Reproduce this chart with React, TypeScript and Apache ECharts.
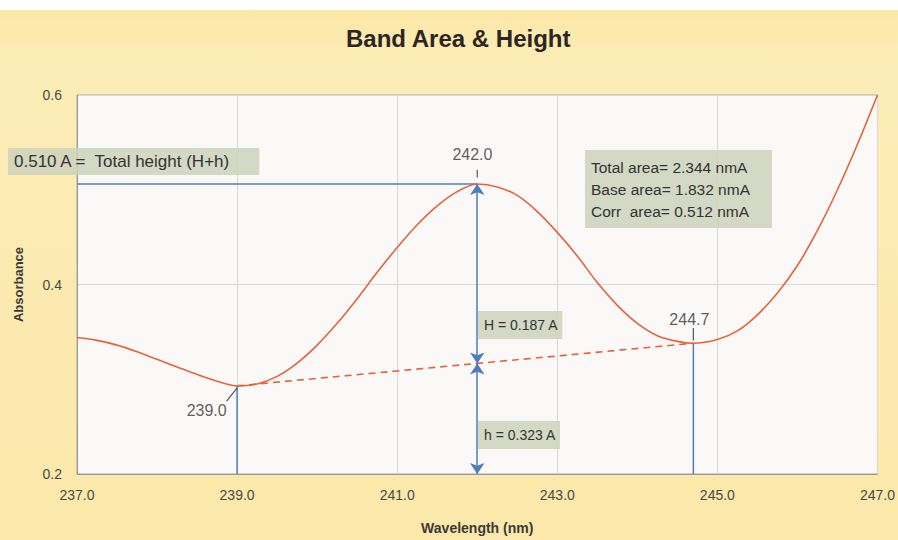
import React, { useEffect, useRef } from "react";
import * as echarts from "echarts";

const FONT = "'Liberation Sans', Arial, sans-serif";

// Spectrum
const wavelength = [
  237.0, 237.25, 237.5, 237.75, 238.0, 238.25, 238.5, 238.75, 239.0, 239.25, 239.5, 239.75,
  240.0, 240.25, 240.5, 240.75, 241.0, 241.25, 241.5, 241.75, 242.0, 242.25, 242.5, 242.75,
  243.0, 243.25, 243.5, 243.75, 244.0, 244.25, 244.5, 244.7, 245.0, 245.25, 245.5, 245.75,
  246.0, 246.25, 246.5, 246.75, 247.0,
];
const absorbance = [
  0.344, 0.341, 0.336, 0.329, 0.321, 0.313, 0.305, 0.298, 0.293, 0.295, 0.303, 0.317,
  0.336, 0.359, 0.385, 0.413, 0.439, 0.463, 0.483, 0.498, 0.506, 0.503, 0.494, 0.477,
  0.455, 0.430, 0.402, 0.378, 0.359, 0.346, 0.340, 0.338, 0.342, 0.351, 0.368, 0.391,
  0.420, 0.457, 0.500, 0.548, 0.600,
];

// Key points
const peak = [242.0, 0.506];
const leftMin = [239.0, 0.293];
const rightMin = [244.7, 0.338];
const baseAtPeak = 0.3167;
const axisMinY = 0.2;
const axisMinX = 237.0;

const xTicks = { min: 237, max: 247, interval: 2 };
const yTicks = { min: 0.2, max: 0.6, interval: 0.2 };

const pointLabels = [
  [241.94, 0.537, "242.0"],
  [238.62, 0.267, "239.0"],
  [244.65, 0.363, "244.7"],
];

const areaLines = ["Total area= 2.344 nmA", "Base area= 1.832 nmA", "Corr  area= 0.512 nmA"];

export default function App() {
  const ref = useRef<HTMLDivElement>(null);
  useEffect(() => {
    document.body.style.margin = "0";
    const chart = echarts.init(ref.current!, undefined, { renderer: "svg" });
    const blue = "#4f7cbd";
    const red = "#e6623d";
    const boxBg = "rgba(205,212,188,0.85)";
    const lineSeries = (name: string, data: number[][], style: any) => ({
      name,
      type: "line",
      data,
      showSymbol: false,
      symbol: "none",
      silent: true,
      lineStyle: style,
      z: 3,
    });
    chart.setOption({
      animation: false,
      backgroundColor: "transparent",
      title: {
        text: "Band Area & Height",
        left: 341,
        top: 21,
        textStyle: { fontSize: 24, fontWeight: "bold", color: "#2b2622", fontFamily: FONT },
      },
      grid: {
        left: 77,
        right: 20,
        top: 95,
        bottom: 63,
        show: true,
        backgroundColor: "#fbf9f7",
        borderColor: "#a9a9a9",
        borderWidth: 1,
      },
      xAxis: {
        type: "value",
        ...xTicks,
        name: "Wavelength (nm)",
        nameLocation: "middle",
        nameGap: 47,
        nameTextStyle: { fontWeight: "bold", fontSize: 14, color: "#3a3a3a", fontFamily: FONT },
        axisLabel: { formatter: (v: number) => v.toFixed(1), margin: 14, color: "#4a4a4a", fontSize: 14, fontFamily: FONT },
        axisLine: { show: true, lineStyle: { color: "#9a9a9a" } },
        axisTick: { show: false },
        splitLine: { show: true, lineStyle: { color: "#d9d9d9" } },
      },
      yAxis: {
        type: "value",
        ...yTicks,
        name: "Absorbance",
        nameLocation: "middle",
        nameGap: 52,
        nameTextStyle: { fontWeight: "bold", fontSize: 13, color: "#3a3a3a", fontFamily: FONT },
        axisLabel: { formatter: (v: number) => v.toFixed(1), margin: 15, color: "#4a4a4a", fontSize: 14, fontFamily: FONT },
        axisLine: { show: true, lineStyle: { color: "#9a9a9a" } },
        axisTick: { show: false },
        splitLine: { show: true, lineStyle: { color: "#d9d9d9" } },
      },
      series: [
        lineSeries("total", [[axisMinX, peak[1]], peak], { color: blue, width: 1.5 }),
        lineSeries("v239", [leftMin, [leftMin[0], axisMinY]], { color: blue, width: 1.5 }),
        lineSeries("v2447", [rightMin, [rightMin[0], axisMinY]], { color: blue, width: 1.5 }),
        lineSeries("baseline", [leftMin, rightMin], { color: red, width: 1.6, type: [7, 5] }),
        lineSeries("lead242", [[242.0, 0.513], [242.0, 0.521]], { color: "#555", width: 1.2 }),
        lineSeries("lead239", [[239.0, 0.291], [238.87, 0.277]], { color: "#555", width: 1.2 }),
        lineSeries("lead2447", [[244.7, 0.341], [244.7, 0.354]], { color: "#555", width: 1.2 }),
        {
          name: "Absorbance",
          type: "line",
          data: wavelength.map((w, i) => [w, absorbance[i]]),
          smooth: 0.3,
          showSymbol: false,
          symbol: "none",
          lineStyle: { color: red, width: 1.6 },
          z: 4,
          markLine: {
            silent: true,
            symbol: ["arrow", "arrow"],
            symbolSize: 11,
            label: { show: false },
            lineStyle: { color: blue, width: 1.5, type: "solid" },
            data: [
              [{ coord: [peak[0], peak[1]] }, { coord: [peak[0], baseAtPeak] }],
              [{ coord: [peak[0], baseAtPeak] }, { coord: [peak[0], axisMinY] }],
            ],
          },
        },
        {
          name: "labels",
          type: "scatter",
          data: pointLabels,
          symbolSize: 0,
          silent: true,
          z: 5,
          label: {
            show: true,
            position: "inside",
            formatter: (p: any) => p.value[2],
            color: "#333",
            fontSize: 16,
            fontFamily: FONT,
          },
        },
      ],
      graphic: [
        {
          type: "text",
          left: 8,
          top: 148,
          z: 10,
          style: {
            text: "0.510 A =  Total height (H+h)",
            fill: "#333",
            font: `17px ${FONT}`,
            backgroundColor: boxBg,
            padding: [5, 28, 5, 6],
          },
        },
        {
          type: "text",
          left: 585,
          top: 150,
          z: 10,
          style: {
            text: areaLines.join("\n"),
            fill: "#333",
            font: `15.5px ${FONT}`,
            lineHeight: 22,
            backgroundColor: boxBg,
            padding: [6, 22, 6, 6],
          },
        },
        {
          type: "text",
          left: 478,
          top: 311,
          z: 10,
          style: {
            text: "H = 0.187 A",
            fill: "#333",
            font: `14px ${FONT}`,
            backgroundColor: boxBg,
            padding: [7, 4, 7, 6],
          },
        },
        {
          type: "text",
          left: 478,
          top: 421,
          z: 10,
          style: {
            text: "h = 0.323 A",
            fill: "#333",
            font: `14px ${FONT}`,
            backgroundColor: boxBg,
            padding: [7, 4, 7, 6],
          },
        },
      ],
    });
    return () => chart.dispose();
  }, []);
  return (
    <div
      style={{
        width: 898,
        height: 540,
        background: "linear-gradient(#ffffff 0px, #ffffff 10px, #fbe7a6 10px, #fcecb6 60px, #fbe8aa 540px)",
      }}
    >
      <div ref={ref} style={{ width: 898, height: 540 }} />
    </div>
  );
}
